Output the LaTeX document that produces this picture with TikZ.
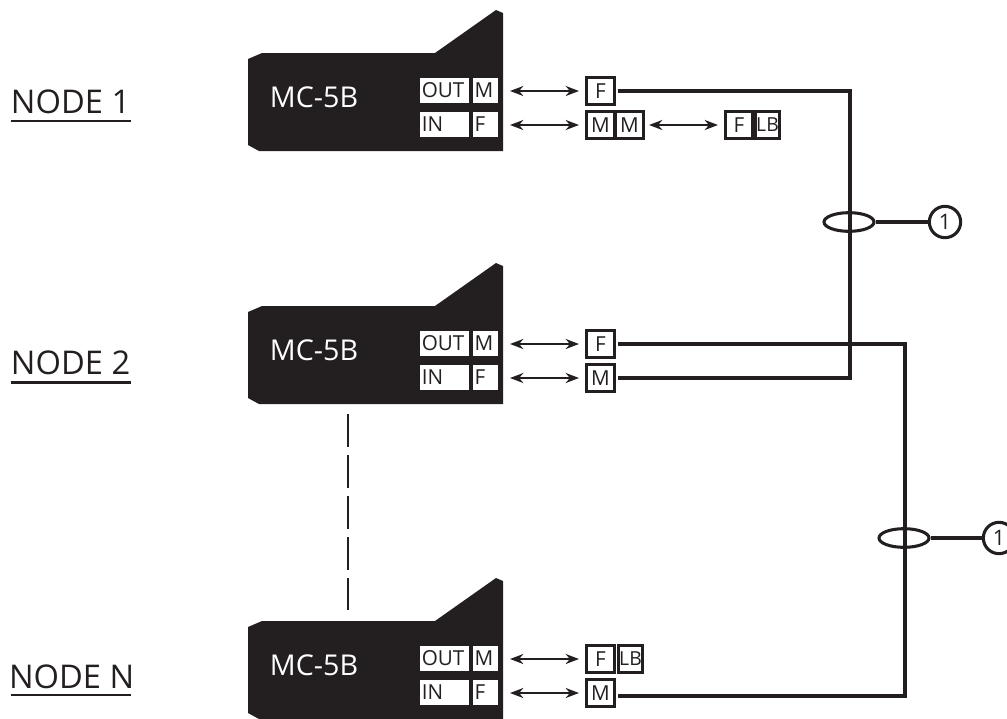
\documentclass[tikz,border=0pt]{standalone}
\usepackage{fontspec}
\setmainfont{Open Sans}
\usetikzlibrary{calc, positioning, arrows.meta, shapes.geometric}
\definecolor{ink}{RGB}{35,31,32}

\begin{document}
\begin{tikzpicture}[x=.75pt, y=-.75pt, line width=1.5pt, ink,
  port/.style={fill=white, text=ink, inner sep=0pt, minimum height=18.75pt, font=\fontsize{15.5}{15.5}\selectfont},
  conn/.style={draw=ink, line width=2.3pt, inner sep=0pt, minimum width=20.5pt, minimum height=20.5pt, font=\fontsize{15.5}{15.5}\selectfont},
  lb/.style={conn, minimum width=18.5pt, font=\fontsize{14.5}{14.5}\selectfont},
  lbl/.style={inner sep=0pt, anchor=base west, font=\fontsize{24.5}{24.5}\selectfont},
  uline/.style={line width=2pt},
  wire/.style={line width=2.3pt},
  link/.style={line width=1.9pt, {Stealth[length=10pt,width=7.5pt]}-{Stealth[length=10pt,width=7.5pt]}},
  ring/.style={draw=ink, ellipse, line width=2.3pt, inner sep=0pt, minimum width=37.5pt, minimum height=14pt},
  tag/.style={draw=ink, circle, line width=2.3pt, inner sep=0pt, minimum size=23.5pt, font=\fontsize{16}{16}\selectfont}]
\useasboundingbox (0,0) rectangle (1007,718);

\foreach \n/\y in {a/0, b/253, c/568} {
  \fill[ink] (248,59+\y) -- (262,53+\y) -- (435,53+\y) -- (496,10+\y) -- (503,13+\y) -- (503,151+\y) -- (259,151+\y) -- (248,145+\y) -- cycle;
  \node[text=white, inner sep=0pt, font=\fontsize{21.5}{21.5}\selectfont] (dev\n) at (314,97.5+\y) {MC-5B};
  \node[port, minimum width=36.75pt, text width=34pt] (out\n) at (444.5,90.5+\y) {OUT};
  \node[port, minimum width=18.75pt, text width=16.5pt] (m\n) at (485.5,90.5+\y) {M};
  \node[port, minimum width=36.75pt, text width=34pt] (in\n) at (444.5,124.5+\y) {IN};
  \node[port, minimum width=18.75pt, text width=16.5pt] (f\n) at (485.5,124.5+\y) {F};
}

\node[lbl] (lblA) at (10,113) {NODE 1};
\node[lbl] (lblB) at (10,374) {NODE 2};
\node[lbl] (lblC) at (8,688) {NODE N};
\draw[uline] (10.5,121) -- (131,121);
\draw[uline] (10.5,382.5) -- (131,382.5);
\draw[uline] (10.5,695) -- (131,695);

% node 1
\node[conn] (fa) at (600.5,91) {F};
\node[conn] (ma) at (600.5,125) {M};
\node[conn] (mb) at (629.5,125) {M};
\node[conn] (fc) at (739,125) {F};
\node[lb] (lba) at (767.5,125) {LB};
% node 2
\node[conn] (fd) at (600.5,344) {F};
\node[conn] (md) at (600.5,378) {M};
% node N
\node[conn] (fe) at (600.5,659) {F};
\node[lb] (lbe) at (630.5,659) {LB};
\node[conn] (me) at (600.5,693) {M};

\coordinate (sa) at (510,91);
\coordinate (sb) at (510,125);
\coordinate (sd) at (510,344);
\coordinate (se) at (510,378);
\coordinate (sf) at (510,659);
\coordinate (sg) at (510,693);
\draw[link] (sa) -- (579,91);
\draw[link] (sb) -- (579,125);
\draw[link] (649,125) -- (718,125);
\draw[link] (sd) -- (579,344);
\draw[link] (se) -- (579,378);
\draw[link] (sf) -- (579,659);
\draw[link] (sg) -- (579,693);

% cables
\coordinate (cA) at (850,91);
\coordinate (cB) at (850,378);
\coordinate (cC) at (905,344);
\coordinate (cD) at (905,696);
\draw[wire] ($(fa.east)+(2,0)$) -- (cA) -- (cB) -- ($(md.east)+(2,0)$);
\draw[wire] ($(fd.east)+(2,0)$) -- (cC) -- (cD) -- ($(me.east)+(2,3)$);

\node[ring] (ringA) at (849,222) {};
\node[ring] (ringB) at (904,538) {};
\node[tag] (tagA) at (945,222) {1};
\node[tag] (tagB) at (999,538) {1};
\draw[wire] (ringA) -- (tagA);
\draw[wire] (ringB) -- (tagB);

\coordinate (gapA) at (348,414);
\coordinate (gapB) at (348,610);
\draw[line width=2.2pt, dash pattern=on 24.4pt off 6.4pt] (gapA) -- (gapB);
\end{tikzpicture}
\end{document}
